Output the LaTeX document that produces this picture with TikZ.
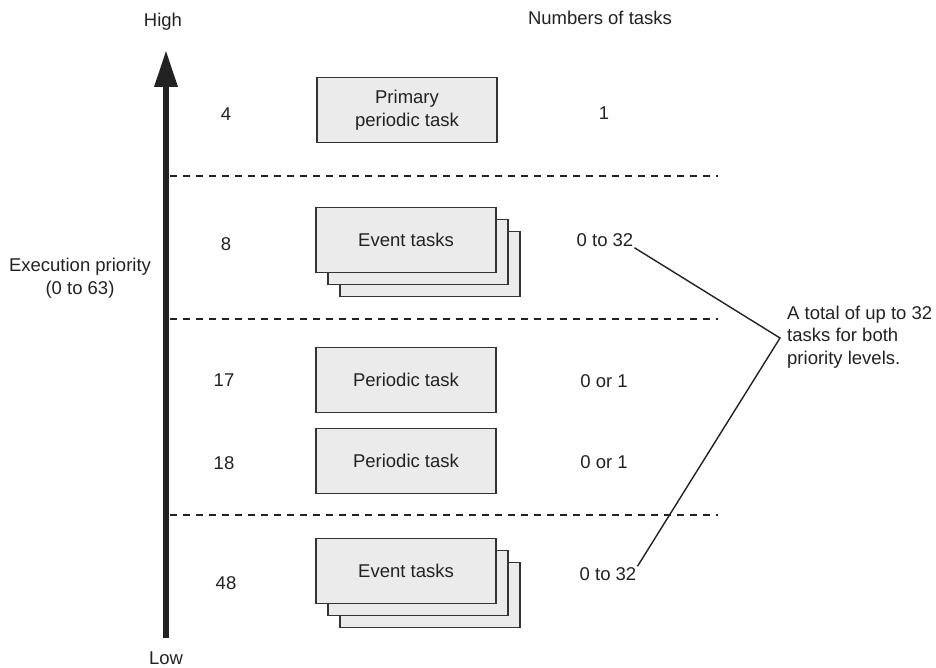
\documentclass[tikz,border=0pt]{standalone}
\usepackage{fontspec}
\setmainfont{Liberation Sans}
\usetikzlibrary{arrows.meta}
\definecolor{inkgray}{HTML}{222222}
\definecolor{boxfill}{HTML}{EBEBEB}
\definecolor{boxline}{HTML}{333333}
\tikzset{
  taskbox/.style={draw=boxline, fill=boxfill, line width=1.6pt, minimum width=180pt,
    minimum height=65pt, align=center, text=inkgray, inner sep=0pt},
  lbl/.style={text=inkgray, inner sep=1pt, align=center},
  sepline/.style={inkgray, line width=1.2pt, dash pattern=on 7pt off 6pt}
}
\begin{document}
\begin{tikzpicture}[x=1pt, y=-1pt, font=\fontsize{18.5}{22.5}\selectfont]
  \useasboundingbox (0,0) rectangle (936,668);

  % priority axis
  \draw[inkgray, line width=6.5pt, -{Triangle[length=37pt, width=22pt]}] (166,638) -- (166,50);
  \node[lbl] (high) at (163,22) {High};
  \node[lbl] (low) at (166,658) {Low};
  \node[lbl] (axis) at (80,278) {Execution priority\\(0 to 63)};
  \node[lbl] (head) at (600,18) {Numbers of tasks};

  % separators
  \draw[sepline] (170,176) -- (718,176);
  \draw[sepline] (170,319) -- (718,319);
  \draw[sepline] (170,515) -- (718,515);

  % tasks
  \node[taskbox] (prim) at (407,110) {Primary\\periodic task};

  \node[taskbox] (evA3) at (430,264) {};
  \node[taskbox] (evA2) at (418,252) {};
  \node[taskbox] (evA) at (406,240) {Event tasks};

  \node[taskbox] (perA) at (406,380) {Periodic task};
  \node[taskbox] (perB) at (406,461) {Periodic task};

  \node[taskbox] (evB3) at (430,595) {};
  \node[taskbox] (evB2) at (418,583) {};
  \node[taskbox] (evB) at (406,571) {Event tasks};

  % priority levels
  \node[lbl] (pr4) at (226,114) {4};
  \node[lbl] (pr8) at (226,244) {8};
  \node[lbl] (pr17) at (224,380) {17};
  \node[lbl] (pr18) at (224,463) {18};
  \node[lbl] (pr48) at (226,583) {48};

  % task counts
  \node[lbl] (cnt1) at (604,113) {1};
  \node[lbl] (cntA) at (605,240) {0 to 32};
  \node[lbl] (cnt17) at (604,381) {0 or 1};
  \node[lbl] (cnt18) at (604,462) {0 or 1};
  \node[lbl] (cntB) at (608,574) {0 to 32};

  % shared limit note
  \node[lbl, anchor=west, align=left] (note) at (786,337) {A total of up to 32\\tasks for both\\priority levels.};
  \coordinate (bend) at (780,338);
  \draw[inkgray, line width=1.4pt] (cntA.south east) -- (bend) -- (cntB.north east);
\end{tikzpicture}
\end{document}
